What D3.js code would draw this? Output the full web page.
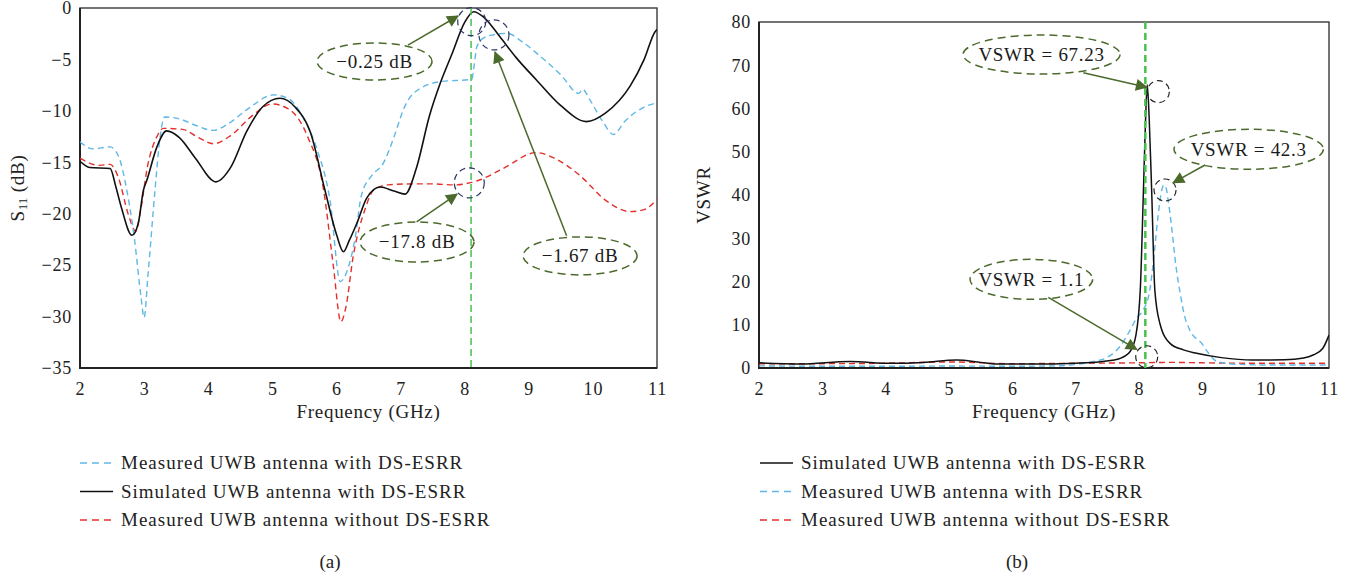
<!DOCTYPE html>
<html>
<head>
<meta charset="utf-8">
<script src="https://cdn.jsdelivr.net/npm/d3@7"></script>
<style>
  html, body { margin: 0; padding: 0; background: #fff; }
  svg { display: block; font-family: "Liberation Serif", "Times New Roman", serif; }
</style>
</head>
<body>
<svg id="chart" width="1362" height="577"></svg>
<script>
// ---- data: S11 (dB) ----
const s11MeasFreq = [2.0, 2.2, 2.47, 2.6, 2.73, 2.85, 2.95, 3.0, 3.06, 3.17, 3.25, 3.32, 3.56, 3.8, 4.08, 4.3, 4.6, 5.02, 5.25, 5.5, 5.7, 5.9, 6.06, 6.17, 6.29, 6.39, 6.55, 6.73, 6.9, 7.05, 7.2, 7.62, 8.11, 8.15, 8.19, 8.3, 8.45, 8.66, 8.9, 9.18, 9.5, 9.78, 9.84, 9.95, 10.15, 10.32, 10.5, 10.75, 11.0];
const s11MeasVal  = [-13.0, -13.7, -13.5, -14.4, -17.7, -22.5, -28.0, -30.1, -26.0, -17.7, -12.5, -10.6, -10.8, -11.4, -11.9, -11.3, -9.9, -8.45, -8.8, -10.9, -13.8, -18.7, -26.6, -25.5, -22.4, -18.2, -16.3, -15.1, -12.5, -9.8, -8.3, -7.16, -6.93, -5.5, -3.76, -2.9, -2.6, -2.46, -3.3, -4.7, -6.5, -8.3, -7.9, -8.9, -11.0, -12.3, -11.0, -9.8, -9.2];

const s11SimFreq = [2.0, 2.15, 2.47, 2.56, 2.65, 2.81, 2.91, 2.99, 3.04, 3.2, 3.35, 3.55, 3.8, 4.12, 4.35, 4.6, 4.85, 5.12, 5.35, 5.6, 5.82, 6.0, 6.11, 6.2, 6.32, 6.47, 6.68, 6.9, 7.07, 7.25, 7.45, 7.62, 7.8, 8.0, 8.14, 8.3, 8.55, 8.8, 9.12, 9.5, 9.9, 10.2, 10.58, 10.8, 10.97, 11.0];
const s11SimVal  = [-14.9, -15.5, -15.6, -17.4, -19.5, -22.1, -20.9, -17.7, -16.8, -13.5, -11.95, -12.6, -14.6, -16.9, -15.5, -12.0, -9.6, -8.78, -9.6, -12.2, -17.7, -22.0, -23.7, -22.6, -20.9, -18.5, -17.4, -17.8, -18.1, -15.5, -10.5, -7.3, -4.5, -1.4, -0.36, -0.9, -2.8, -4.8, -7.0, -9.5, -11.05, -10.2, -7.6, -5.0, -2.3, -2.1];

const s11RefFreq = [2.0, 2.3, 2.47, 2.6, 2.75, 2.87, 2.95, 3.05, 3.2, 3.3, 3.6, 3.85, 4.08, 4.35, 4.7, 4.99, 5.25, 5.55, 5.8, 5.95, 6.07, 6.15, 6.26, 6.45, 6.58, 6.8, 7.2, 7.5, 7.83, 8.24, 8.6, 9.12, 9.4, 9.8, 10.2, 10.58, 10.8, 11.0];
const s11RefVal  = [-14.6, -15.3, -15.2, -16.5, -20.0, -21.7, -19.5, -15.5, -12.5, -11.7, -11.8, -12.6, -13.2, -12.4, -10.4, -9.33, -9.8, -12.5, -17.7, -25.0, -30.5, -29.0, -24.2, -19.5, -17.7, -17.2, -17.1, -17.1, -17.2, -16.7, -15.6, -14.06, -14.6, -16.3, -18.7, -19.8, -19.6, -18.6];

// ---- data: VSWR ----
const vswrSimFreq = [2.0, 2.65, 3.44, 4.07, 4.6, 5.12, 5.5, 5.75, 6.3, 7.0, 7.43, 7.7, 7.86, 7.95, 8.02, 8.07, 8.105, 8.13, 8.16, 8.2, 8.25, 8.33, 8.49, 8.7, 8.91, 9.3, 9.8, 10.3, 10.6, 10.75, 10.9, 11.0];
const vswrSimVal  = [1.2, 0.9, 1.5, 1.1, 1.3, 1.85, 1.3, 0.9, 0.9, 1.1, 1.5, 2.2, 3.8, 7.5, 18, 41, 58, 65.5, 58, 41, 18, 10.3, 5.7, 4.2, 3.4, 2.4, 1.85, 1.9, 2.3, 3.0, 4.5, 7.6];

const vswrMeasFreq = [2.0, 3.0, 4.0, 5.0, 6.0, 6.7, 7.0, 7.28, 7.49, 7.7, 7.85, 7.96, 8.07, 8.17, 8.23, 8.3, 8.36, 8.39, 8.43, 8.46, 8.52, 8.58, 8.65, 8.72, 8.8, 8.99, 9.1, 9.23, 9.5, 10.0, 11.0];
const vswrMeasVal  = [0.5, 0.4, 0.4, 0.45, 0.4, 0.5, 0.8, 1.5, 2.4, 5.0, 8.5, 11.5, 13.5, 18, 25, 35, 41.2, 42.3, 41.5, 38.8, 32, 24, 17.3, 12, 8.8, 5.7, 3.4, 1.5, 0.9, 0.7, 0.7];

const vswrRefFreq = [2.0, 3.0, 4.0, 5.0, 6.0, 7.0, 8.0, 8.5, 9.0, 10.0, 11.0];
const vswrRefVal  = [1.0, 1.0, 1.1, 1.4, 1.0, 1.1, 1.2, 1.3, 1.2, 1.1, 1.1];

const xTicks = [2, 3, 4, 5, 6, 7, 8, 9, 10, 11];
const s11Ticks = [0, -5, -10, -15, -20, -25, -30, -35];
const vswrTicks = [0, 10, 20, 30, 40, 50, 60, 70, 80];
const markerFreq = 8.1;

const labelMeas = 'Measured UWB antenna with DS-ESRR';
const labelSim = 'Simulated UWB antenna with DS-ESRR';
const labelRef = 'Measured UWB antenna without DS-ESRR';

const C_BLUE = '#5fb8e6', C_BLACK = '#111', C_RED = '#e3302a';
const C_GREEN = '#47c24f', C_ANN = '#4c6a2c';

const zip = (f, v) => f.map((d, i) => [d, v[i]]);

const svg = d3.select('#chart');
const defs = svg.append('defs');
defs.append('marker')
  .attr('id', 'ann-arrow')
  .attr('viewBox', '0 0 10 10')
  .attr('refX', 9).attr('refY', 5)
  .attr('markerWidth', 8).attr('markerHeight', 8)
  .attr('markerUnits', 'userSpaceOnUse')
  .attr('orient', 'auto')
  .append('path').attr('d', 'M 0 0 L 10 5 L 0 10 z').attr('fill', C_ANN);
defs.select('marker').attr('markerWidth', 14).attr('markerHeight', 12);

function drawPanel(opt) {
  const { left, right, top, bottom, yDomain, yTicks } = opt;
  const x = d3.scaleLinear().domain([2, 11]).range([left, right]);
  const y = d3.scaleLinear().domain(yDomain).range([bottom, top]);
  const g = svg.append('g');

  const clipId = 'clip-' + opt.id;
  defs.append('clipPath').attr('id', clipId)
    .append('rect').attr('x', left).attr('y', top - 2).attr('width', right - left).attr('height', bottom - top + 2);

  // frame
  g.append('rect').attr('x', left).attr('y', top).attr('width', right - left).attr('height', bottom - top)
    .attr('fill', 'none').attr('stroke', '#3a3a3a').attr('stroke-width', 1.4);
  g.append('path').attr('d', `M${left},${top}V${bottom}H${right}`)
    .attr('fill', 'none').attr('stroke', '#222').attr('stroke-width', 2);

  // axes (labels only)
  const xa = g.append('g').attr('transform', `translate(0,${bottom})`)
    .call(d3.axisBottom(x).tickValues(xTicks).tickSize(0).tickPadding(14).tickFormat(d3.format('d')));
  const ya = g.append('g').attr('transform', `translate(${left},0)`)
    .call(d3.axisLeft(y).tickValues(yTicks).tickSize(0).tickPadding(8).tickFormat(d => d < 0 ? '\u2212' + (-d) : d));
  [xa, ya].forEach(a => {
    a.select('.domain').remove();
    a.selectAll('text').attr('font-family', '"Liberation Serif", serif').attr('font-size', 18)
      .attr('letter-spacing', 0.8).attr('fill', '#222');
  });

  const line = d3.line().x(d => x(d[0])).y(d => y(d[1])).curve(d3.curveMonotoneX);
  const plot = g.append('g').attr('clip-path', `url(#${clipId})`);

  opt.series.forEach(s => {
    plot.append('path').datum(s.data).attr('d', line)
      .attr('fill', 'none').attr('stroke', s.color).attr('stroke-width', s.width || 1.4)
      .attr('stroke-dasharray', s.dash || null);
  });

  // green marker line
  plot.append('line').attr('x1', x(markerFreq)).attr('x2', x(markerFreq))
    .attr('y1', top).attr('y2', bottom)
    .attr('stroke', C_GREEN).attr('stroke-width', opt.markerWidth).attr('stroke-dasharray', '7,4');

  // annotation circles
  opt.circles.forEach(c => {
    g.append('circle').attr('cx', x(c.f)).attr('cy', y(c.v)).attr('r', c.r)
      .attr('fill', 'none').attr('stroke', opt.circleColor).attr('stroke-width', 1.2).attr('stroke-dasharray', '6,4');
  });

  // callouts
  opt.callouts.forEach(c => {
    g.append('line')
      .attr('x1', x(c.from[0])).attr('y1', y(c.from[1]))
      .attr('x2', x(c.to[0])).attr('y2', y(c.to[1]))
      .attr('stroke', C_ANN).attr('stroke-width', 1.5).attr('marker-end', 'url(#ann-arrow)');
    g.append('ellipse').attr('cx', x(c.f)).attr('cy', y(c.v)).attr('rx', c.rx).attr('ry', c.ry)
      .attr('fill', 'none').attr('stroke', C_ANN).attr('stroke-width', 1.5).attr('stroke-dasharray', '8,5');
    g.append('text').attr('x', x(c.f)).attr('y', y(c.v)).attr('dy', '0.34em')
      .attr('text-anchor', 'middle').attr('font-size', 19).attr('letter-spacing', 0.7).attr('fill', '#1a1a1a')
      .text(c.text);
  });

  // axis titles
  g.append('text').attr('x', (left + right) / 2).attr('y', 418).attr('text-anchor', 'middle')
    .attr('font-size', 19).attr('letter-spacing', 0.7).attr('fill', '#222').text('Frequency (GHz)');
  const yt = g.append('text').attr('transform', `translate(${opt.yTitleX},${(top + bottom) / 2}) rotate(-90)`)
    .attr('text-anchor', 'middle').attr('font-size', 19).attr('letter-spacing', 0.7).attr('fill', '#222');
  opt.yTitle(yt);

  // legend
  opt.series.slice().sort((a, b) => a.order - b.order).forEach((s, i) => {
    const ly = 463 + i * 28.5;
    g.append('line').attr('x1', opt.legendX).attr('x2', opt.legendX + 33).attr('y1', ly).attr('y2', ly)
      .attr('stroke', s.color).attr('stroke-width', 1.6).attr('stroke-dasharray', s.dash ? '7,5' : null);
    g.append('text').attr('x', opt.legendX + 41).attr('y', ly).attr('dy', '0.34em')
      .attr('font-size', 19).attr('letter-spacing', 1).attr('fill', '#222').text(s.label);
  });

  g.append('text').attr('x', opt.capX).attr('y', 562).attr('dy', '0.34em').attr('text-anchor', 'middle')
    .attr('font-size', 19).attr('fill', '#222').text(opt.caption);
}

drawPanel({
  id: 'a', left: 80, right: 657, top: 8, bottom: 368,
  yDomain: [-35, 0], yTicks: s11Ticks, markerWidth: 1.5,
  circleColor: '#2c3566',
  series: [
    { data: zip(s11RefFreq, s11RefVal), color: C_RED, dash: '6,4', label: labelRef, order: 3 },
    { data: zip(s11MeasFreq, s11MeasVal), color: C_BLUE, dash: '6,4', label: labelMeas, order: 1 },
    { data: zip(s11SimFreq, s11SimVal), color: C_BLACK, width: 1.6, label: labelSim, order: 2 },
  ],
  circles: [
    { f: 8.11, v: -1.33, r: 14 },
    { f: 8.457, v: -2.62, r: 15 },
    { f: 8.072, v: -17.0, r: 15 },
  ],
  callouts: [
    { text: '\u22120.25 dB', f: 6.594, v: -5.2, rx: 57.5, ry: 18.5, from: [7.116, -3.6], to: [7.896, -0.78] },
    { text: '\u221217.8 dB', f: 7.257, v: -22.75, rx: 57, ry: 20, from: [7.25, -20.8], to: [7.88, -18.1] },
    { text: '\u22121.67 dB', f: 9.8, v: -24.1, rx: 57, ry: 19, from: [9.59, -22.14], to: [8.473, -4.28] },
  ],
  yTitleX: 24,
  yTitle: t => {
    t.append('tspan').text('S');
    t.append('tspan').attr('font-size', 13).attr('baseline-shift', '-25%').attr('letter-spacing', 0).text('11');
    t.append('tspan').text(' (dB)');
  },
  legendX: 80, capX: 330, caption: '(a)',
});

drawPanel({
  id: 'b', left: 759, right: 1329, top: 22, bottom: 368,
  yDomain: [0, 80], yTicks: vswrTicks, markerWidth: 2.5,
  circleColor: '#222',
  series: [
    { data: zip(vswrRefFreq, vswrRefVal), color: C_RED, dash: '6,4', label: labelRef, order: 3 },
    { data: zip(vswrMeasFreq, vswrMeasVal), color: C_BLUE, dash: '6,4', label: labelMeas, order: 2 },
    { data: zip(vswrSimFreq, vswrSimVal), color: C_BLACK, width: 1.5, label: labelSim, order: 1 },
  ],
  circles: [
    { f: 8.305, v: 63.9, r: 11 },
    { f: 8.411, v: 41.16, r: 11 },
    { f: 8.122, v: 2.6, r: 11 },
  ],
  callouts: [
    { text: 'VSWR = 67.23', f: 6.461, v: 72.49, rx: 78.5, ry: 19.5, from: [7.121, 68.28], to: [8.122, 64.9] },
    { text: 'VSWR = 42.3', f: 9.732, v: 50.57, rx: 74.7, ry: 20, from: [9.042, 46.94], to: [8.542, 42.84] },
    { text: 'VSWR = 1.1', f: 6.3, v: 20.5, rx: 61.3, ry: 20, from: [6.568, 16.35], to: [7.964, 4.32] },
  ],
  yTitleX: 710,
  yTitle: t => t.text('VSWR'),
  legendX: 760, capX: 1017, caption: '(b)',
});
</script>
</body>
</html>
